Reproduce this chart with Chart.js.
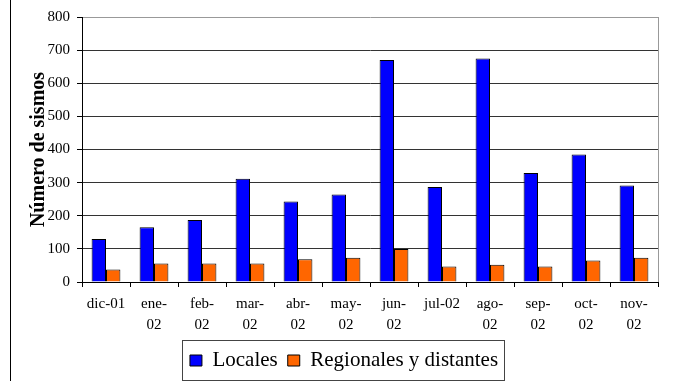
<!DOCTYPE html>
<html>
<head>
<meta charset="utf-8">
<script src="https://cdn.jsdelivr.net/npm/chart.js@4/dist/chart.umd.min.js"></script>
<style>
  html, body { margin: 0; padding: 0; background: #fff; }
  #wrap { width: 677px; height: 381px; }
</style>
</head>
<body>
<div id="wrap"><canvas id="chart" width="677" height="381"></canvas></div>
<script>
// Monthly seismic event counts, Dec 2001 - Nov 2002
const months = [
  ['dic-01'], ['ene-', '02'], ['feb-', '02'], ['mar-', '02'],
  ['abr-', '02'], ['may-', '02'], ['jun-', '02'], ['jul-02'],
  ['ago-', '02'], ['sep-', '02'], ['oct-', '02'], ['nov-', '02']
];
const locales = [130, 165, 187, 312, 243, 264, 670, 287, 675, 329, 385, 291];
const regionales = [38, 56, 56, 56, 69, 73, 100, 47, 52, 47, 65, 73];
const yTicks = [0, 100, 200, 300, 400, 500, 600, 700, 800];

const serif = "'Liberation Serif', 'Times New Roman', serif";
Chart.defaults.font.family = serif;
Chart.defaults.color = '#000';

// Nudge the legend block to sit a little right of the canvas centre;
// the legend plugin recomputes its hit boxes afterwards.
const legendShift = {
  id: 'legendShift',
  afterLayout(chart) {
    const lg = chart.legend;
    if (!lg) return;
    const area = chart.chartArea;
    const dx = (area.left + area.right) / 2 - (lg.left + lg.right) / 2 - 26;
    lg.left += dx;
    lg.right += dx;
  }
};

// Frame lines: page edge on the left, grey plot border on the right,
// and a box around the legend.
const framePlugin = {
  id: 'frames',
  afterDraw(chart) {
    const ctx = chart.ctx;
    const area = chart.chartArea;
    ctx.save();
    ctx.lineWidth = 1;
    ctx.strokeStyle = '#000';
    ctx.beginPath();
    ctx.moveTo(10.5, 0);
    ctx.lineTo(10.5, chart.height);
    ctx.stroke();

    ctx.strokeStyle = '#999';
    ctx.beginPath();
    ctx.moveTo(Math.round(area.right) + 0.5, area.top);
    ctx.lineTo(Math.round(area.right) + 0.5, area.bottom);
    ctx.stroke();

    const boxes = chart.legend.legendHitBoxes;
    if (boxes && boxes.length) {
      let x0 = Infinity, x1 = -Infinity, y0 = Infinity, y1 = -Infinity;
      boxes.forEach(b => {
        x0 = Math.min(x0, b.left); x1 = Math.max(x1, b.left + b.width);
        y0 = Math.min(y0, b.top); y1 = Math.max(y1, b.top + b.height);
      });
      ctx.strokeStyle = '#444';
      ctx.strokeRect(Math.round(x0 - 8) + 0.5, Math.round(y0 - 10) + 0.5,
                     Math.round(x1 - x0 + 14), Math.round(y1 - y0 + 19));
    }
    ctx.restore();
  }
};

new Chart(document.getElementById('chart'), {
  type: 'bar',
  data: {
    labels: months,
    datasets: [
      {
        label: 'Locales',
        data: locales,
        backgroundColor: '#0000FF',
        borderColor: '#000',
        borderWidth: 1,
        categoryPercentage: 0.6,
        barPercentage: 1.0
      },
      {
        label: 'Regionales y distantes',
        data: regionales,
        backgroundColor: '#FF6600',
        borderColor: '#000',
        borderWidth: 1,
        categoryPercentage: 0.6,
        barPercentage: 1.0
      }
    ]
  },
  options: {
    responsive: false,
    animation: false,
    devicePixelRatio: 1,
    layout: { padding: { left: 10, right: 19, top: 17, bottom: 0 } },
    plugins: {
      tooltip: { enabled: false },
      legend: {
        position: 'bottom',
        maxHeight: 42,
        labels: {
          color: '#000',
          font: { family: serif, size: 21 },
          boxWidth: 12,
          boxHeight: 11,
          padding: 10
        }
      }
    },
    scales: {
      x: {
        afterFit(scale) { scale.height = 58; },
        grid: {
          display: true,
          offset: true,
          drawOnChartArea: false,
          tickLength: 5,
          tickColor: '#000'
        },
        border: { color: '#000', width: 1 },
        ticks: {
          color: '#000',
          font: { family: serif, size: 15, lineHeight: 1.4 },
          maxRotation: 0,
          autoSkip: false,
          padding: 7
        }
      },
      y: {
        min: 0,
        max: 800,
        afterBuildTicks(scale) {
          scale.ticks = yTicks.map(v => ({ value: v }));
        },
        afterFit(scale) { scale.width = 72; },
        grid: {
          color: ctx => (ctx.tick && ctx.tick.value === 800) ? '#999' : '#333',
          tickLength: 5,
          tickColor: '#000'
        },
        border: { color: '#000', width: 1 },
        ticks: {
          color: '#000',
          font: { family: serif, size: 15 },
          padding: 7
        },
        title: {
          display: true,
          text: 'Número de sismos',
          color: '#000',
          font: { family: serif, size: 20, weight: 'bold' },
          padding: { top: 17, bottom: 0 }
        }
      }
    }
  },
  plugins: [legendShift, framePlugin]
});
</script>
</body>
</html>
